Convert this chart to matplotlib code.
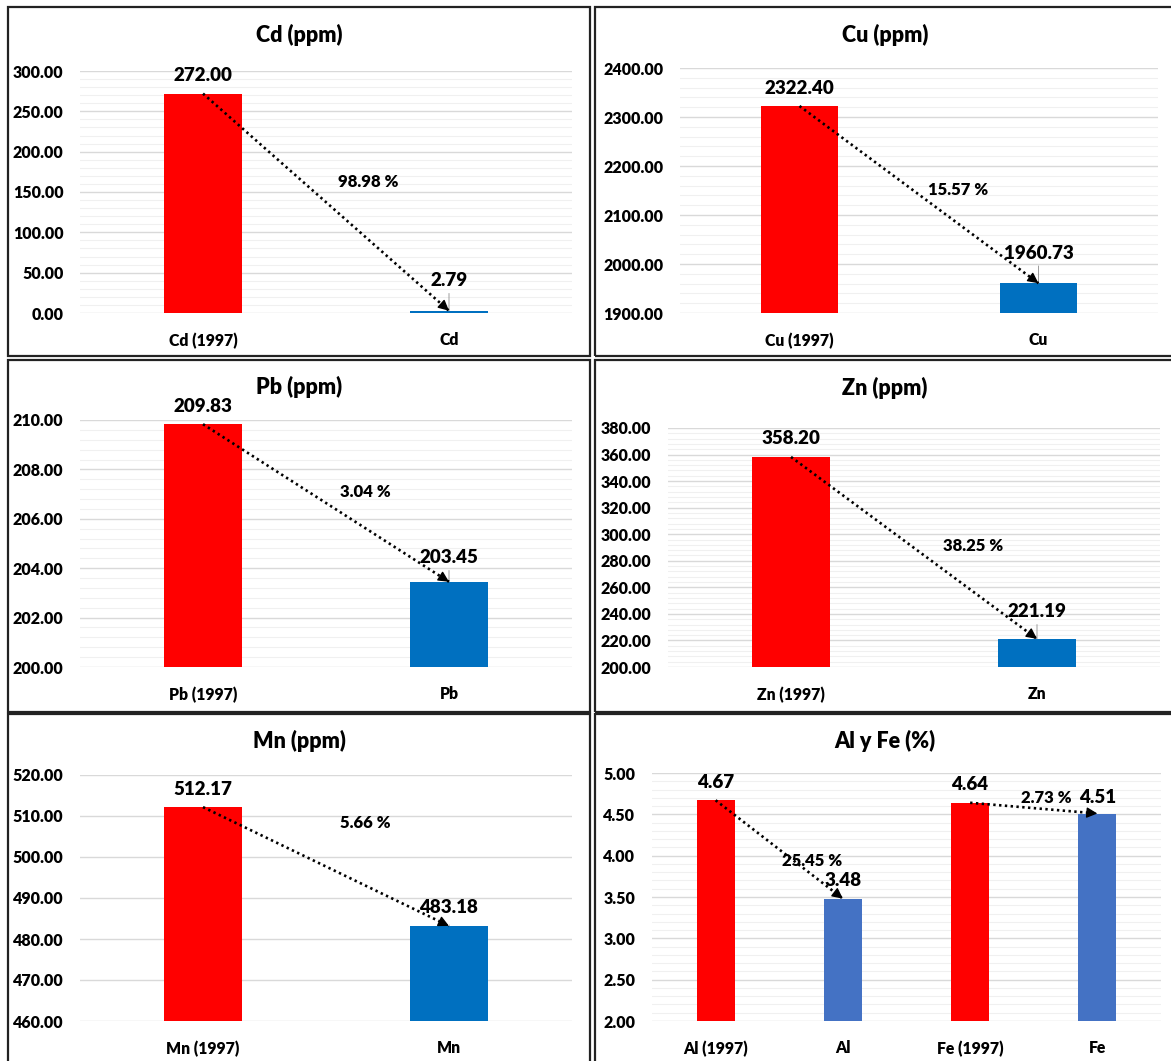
import numpy as np
import matplotlib.pyplot as plt
from matplotlib.patches import Rectangle
from matplotlib.ticker import MultipleLocator, FormatStrFormatter

plt.rcParams['font.family'] = ['Lato', 'DejaVu Sans']
plt.rcParams['font.weight'] = 'heavy'

# Concentraciones 1997 vs actuales
titles = ['Cd (ppm)', 'Cu (ppm)', 'Pb (ppm)', 'Zn (ppm)', 'Mn (ppm)', 'Al y Fe (%)']
categories = [['Cd (1997)', 'Cd'], ['Cu (1997)', 'Cu'], ['Pb (1997)', 'Pb'],
              ['Zn (1997)', 'Zn'], ['Mn (1997)', 'Mn'],
              ['Al (1997)', 'Al', 'Fe (1997)', 'Fe']]
values = [[272.00, 2.79], [2322.40, 1960.73], [209.83, 203.45],
          [358.20, 221.19], [512.17, 483.18], [4.67, 3.48, 4.64, 4.51]]
reductions = [['98.98 %'], ['15.57 %'], ['3.04 %'], ['38.25 %'], ['5.66 %'],
              ['25.45 %', '2.73 %']]
y_limits = [(0, 300), (1900, 2400), (200, 210), (200, 380), (460, 520), (2, 5)]
y_steps = [50, 100, 2, 20, 10, 0.5]

# layout (pixels of a 1171x1061 canvas)
W, H = 1171, 1061
frames = [(8, 7, 590, 356), (595, 7, 1175, 356), (8, 360, 590, 712),
          (595, 360, 1175, 712), (8, 714, 590, 1065), (595, 714, 1175, 1065)]
plot_areas = [(80, 71, 572, 313), (680, 68, 1158, 313), (80, 420, 572, 667),
              (668, 428, 1160, 667), (80, 775, 572, 1021), (652, 773, 1161, 1021)]
title_y = [35, 35, 387, 388, 741, 741]
minor_grid = [True, True, True, True, False, True]
blue_colors = ['#0070C0'] * 5 + ['#4472C4']
label_lift = [[18, 30], [18, 30], [18, 24], [18, 27], [18, 18], [18, 18, 18, 16]]
pct_pos = [[(0.67, 162)], [(0.665, 2151)], [(0.66, 207.1)], [(0.74, 291)],
           [(0.66, 508.3)], [(0.757, 3.94), (2.596, 4.70)]]

fig = plt.figure(figsize=(W / 100, H / 100), dpi=100)

for k in range(6):
    fx0, fy0, fx1, fy1 = frames[k]
    fig.add_artist(Rectangle((fx0 / W, 1 - fy1 / H), (fx1 - fx0) / W, (fy1 - fy0) / H,
                             transform=fig.transFigure, fill=False,
                             edgecolor='#222222', lw=1.6))
    fig.text((fx0 + fx1) / 2 / W, 1 - title_y[k] / H, titles[k], ha='center',
             va='center', fontsize=15.5)

    x0, y0, x1, y1 = plot_areas[k]
    ax = fig.add_axes([x0 / W, 1 - y1 / H, (x1 - x0) / W, (y1 - y0) / H])
    vals = values[k]
    n = len(vals)
    xs = list(range(n))
    width = 0.32 if n == 2 else 0.30
    colors = ['#FF0000' if i % 2 == 0 else blue_colors[k] for i in xs]
    ax.bar(xs, vals, width=width, color=colors, zorder=3)
    ax.set_xlim(-0.5, n - 0.5)
    ax.set_ylim(*y_limits[k])
    ax.set_xticks(xs)
    ax.set_xticklabels(categories[k], fontsize=11.3)
    ax.yaxis.set_major_locator(MultipleLocator(y_steps[k]))
    ax.yaxis.set_major_formatter(FormatStrFormatter('%.2f'))
    ax.grid(axis='y', which='major', color='#D9D9D9', lw=1, zorder=0)
    if minor_grid[k]:
        ax.yaxis.set_minor_locator(MultipleLocator(y_steps[k] / 5))
        ax.grid(axis='y', which='minor', color='#F0F0F0', lw=0.8, zorder=0)
    ax.tick_params(axis='both', which='both', length=0)
    ax.tick_params(axis='y', labelsize=11.5)
    ax.tick_params(axis='x', pad=14)
    ax.tick_params(axis='y', pad=12)
    for s in ax.spines.values():
        s.set_visible(False)

    # value labels
    for i, v in enumerate(vals):
        lift = label_lift[k][i]
        props = None
        if lift > 20:
            props = dict(arrowstyle='-', color='#8C8C8C', lw=0.6,
                         shrinkA=1, shrinkB=0)
        ax.annotate(f'{v:.2f}', xy=(i, v), xytext=(0, lift),
                    textcoords='offset pixels', ha='center', va='center',
                    fontsize=13.5, arrowprops=props, annotation_clip=False)

    # change arrows (1997 -> now): dotted shaft + solid head
    for j in range(n // 2):
        a, b = 2 * j, 2 * j + 1
        ax.plot([a, b], [vals[a], vals[b]], color='black', lw=1.9,
                linestyle=(0, (0.9, 1.3)), zorder=5, clip_on=False)
        pa = ax.transData.transform((a, vals[a]))
        pb = ax.transData.transform((b, vals[b]))
        d = (pb - pa) / np.hypot(*(pb - pa))
        tail = ax.transData.inverted().transform(pb - 6 * d)
        ax.annotate('', xy=(b, vals[b]), xytext=tuple(tail),
                    arrowprops=dict(arrowstyle='-|>', lw=1, color='black',
                                    shrinkA=0, shrinkB=0, mutation_scale=16),
                    zorder=6, annotation_clip=False)
        px, py = pct_pos[k][j]
        ax.text(px, py, reductions[k][j], ha='center', va='center',
                fontsize=12, zorder=6)

fig.savefig('out.png', dpi=100)
